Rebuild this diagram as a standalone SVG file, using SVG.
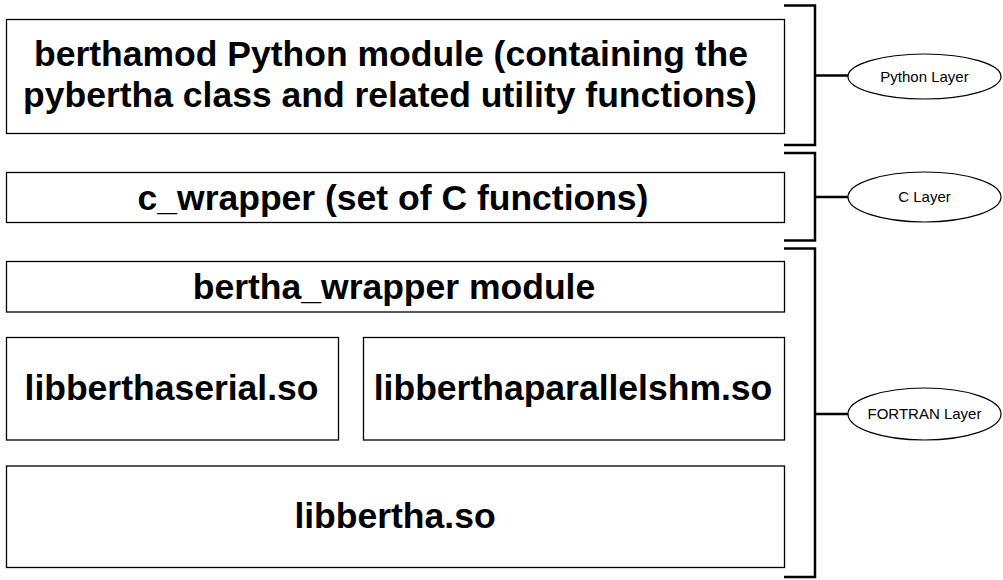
<svg xmlns="http://www.w3.org/2000/svg" width="1003" height="580" viewBox="0 0 1003 580">
<style>
.box{fill:#fff;stroke:#000;stroke-width:1.3}
.t{font-family:"Liberation Sans",Arial,sans-serif;font-weight:bold;font-size:35.5px;fill:#000;text-anchor:middle}
.br{fill:none;stroke:#000;stroke-width:2.5}
.tick{fill:none;stroke:#000;stroke-width:2.5}
.el{fill:#fff;stroke:#000;stroke-width:1.2}
.lt{font-family:"Liberation Sans",Arial,sans-serif;font-size:15px;fill:#000;text-anchor:middle}
</style>
<rect width="1003" height="580" fill="#fff"/>
<g id="python-module">
<rect class="box" x="6.5" y="19.5" width="778" height="114"/>
<text class="t" x="391" y="66">berthamod Python module (containing the</text>
<text class="t" x="390" y="106.5">pybertha class and related utility functions)</text>
</g>
<g id="c-wrapper">
<rect class="box" x="6.5" y="172.5" width="778" height="50"/>
<text class="t" x="393" y="210">c_wrapper (set of C functions)</text>
</g>
<g id="bertha-wrapper">
<rect class="box" x="6.5" y="261.5" width="778" height="50.5"/>
<text class="t" x="394" y="299">bertha_wrapper module</text>
</g>
<g id="libberthaserial">
<rect class="box" x="6.5" y="337.5" width="332" height="102.5"/>
<text class="t" x="171.5" y="400">libberthaserial.so</text>
</g>
<g id="libberthaparallelshm">
<rect class="box" x="363.5" y="337.5" width="421" height="102.5"/>
<text class="t" x="573" y="400">libberthaparallelshm.so</text>
</g>
<g id="libbertha">
<rect class="box" x="6.5" y="466" width="778" height="101.5"/>
<text class="t" x="395" y="528">libbertha.so</text>
</g>
<g id="connectors">
<path class="br" d="M784 5.5 H815 V145 H784"/>
<path class="tick" d="M815 75.5 H848"/>
<path class="br" d="M784 153 H815 V240.5 H784"/>
<path class="tick" d="M815 197 H848"/>
<path class="br" d="M784 248.5 H815 V577 H784"/>
<path class="tick" d="M815 414 H848"/>
</g>
<g id="python-layer">
<ellipse class="el" cx="924.5" cy="76.5" rx="76.5" ry="22.5"/>
<text class="lt" x="924.5" y="81.5">Python Layer</text>
</g>
<g id="c-layer">
<ellipse class="el" cx="924.5" cy="197" rx="76.5" ry="25"/>
<text class="lt" x="924.5" y="202">C Layer</text>
</g>
<g id="fortran-layer">
<ellipse class="el" cx="924.5" cy="414" rx="76.5" ry="26"/>
<text class="lt" x="924.5" y="419">FORTRAN Layer</text>
</g>
</svg>
